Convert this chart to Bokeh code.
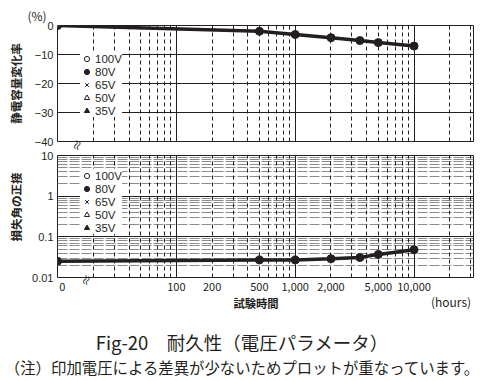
from bokeh.plotting import figure
from bokeh.models import (ColumnDataSource, FixedTicker, Grid, Legend, LegendItem,
                          Range1d, Div, InlineStyleSheet)
from bokeh.layouts import column, row
from bokeh.embed import file_html
from bokeh.resources import INLINE

# ---------------- data ----------------
hours = [0, 500, 1000, 2000, 3500, 5000, 10000]
cap_change_pct = [0.0, -2.0, -3.1, -4.2, -5.2, -5.9, -7.1]
tan_delta = [0.025, 0.027, 0.027, 0.029, 0.031, 0.037, 0.048]

voltage_labels = ["100V", "80V", "65V", "50V", "35V"]
top_voltage = "80V"   # the five voltages overlap; 80V is drawn on top

hour_ticks = [0, 100, 200, 500, 1000, 2000, 5000, 10000]
hour_tick_labels = ["0", "100", "200", "500", "1,000", "2,000", "5,000", "10,000"]
cap_ticks = [0, -10, -20, -30, -40]
cap_tick_labels = ["0", "−10", "−20", "−30", "−40"]
tan_ticks = [10, 1, 0.1, 0.01]
tan_tick_labels = ["10", "1", "0.1", "0.01"]

title_text = "Fig-20\u3000耐久性（電圧パラメータ）"
note_text = "（注）印加電圧による差異が少ないためプロットが重なっています。"
cap_ylabel = "静電容量変化率"
tan_ylabel = "損失角の正接"
x_label = "試験時間"
x_unit = "(hours)"
cap_unit = "(%)"
break_mark = "≈"

# ---------------- styles ----------------
INK = "#231f20"
GRAY = "#8c8c8c"
JP = "Noto Sans CJK JP"
NARROW = "'Liberation Sans Narrow', 'Noto Sans CJK JP'"
SANS = "'Liberation Sans', 'Noto Sans CJK JP'"
W = 484

X_MIN, X_MAX = 10, 10 ** 4.5      # 0 h is drawn at the axis break (left edge)
ZERO_LABEL_POS = 11

x_pos = [h if h > 0 else X_MIN for h in hours]
src = ColumnDataSource(dict(x=x_pos, cap=cap_change_pct, tan=tan_delta))

legend_styles = {
    "100V": dict(marker="circle", fill_color="white", size=6),
    "80V": dict(marker="circle", fill_color=INK, size=8),
    "65V": dict(marker="x", fill_color=None, size=6),
    "50V": dict(marker="triangle", fill_color="white", size=6),
    "35V": dict(marker="triangle", fill_color=INK, size=6),
}

FRAME_L, FRAME_W = 57, 416
OVERFLOW_CSS = InlineStyleSheet(css=":host{overflow:visible !important;} "
                                    "div{overflow:visible !important;}")


def text_div(height, width, spans):
    """spans: (text, cx, cy, size_px, weight, rotate_deg, font)"""
    inner = ""
    for text, cx, cy, size, weight, rot, font in spans:
        inner += (f'<span style="position:absolute;left:{cx}px;top:{cy}px;'
                  f'transform:translate(-50%,-50%) rotate({rot}deg);'
                  f'font-family:{font};font-size:{size}px;font-weight:{weight};'
                  f'color:{INK};white-space:nowrap;line-height:1.2">{text}</span>')
    html = f'<div style="position:relative;width:{width}px;height:{height}px">{inner}</div>'
    return Div(text=html, width=width, height=height, margin=0,
               stylesheets=[OVERFLOW_CSS], styles={"overflow": "visible"})


def base_fig(width, height, y_range, y_type, left, top, bottom, x_range):
    p = figure(width=width, height=height, x_axis_type="log", y_axis_type=y_type,
               x_range=x_range, y_range=y_range, output_backend="svg",
               toolbar_location=None, min_border_left=left,
               min_border_right=W - FRAME_L - FRAME_W,
               min_border_top=top, min_border_bottom=bottom)
    p.xgrid.grid_line_color = None
    p.ygrid.grid_line_color = None
    p.outline_line_color = INK
    p.outline_line_width = 1
    p.outline_line_alpha = 1
    p.background_fill_color = "white"
    p.border_fill_color = None
    return p


def style_axis(ax, ticks, labels, font, size, standoff):
    ax.ticker = FixedTicker(ticks=ticks)
    ax.major_label_overrides = dict(zip(ticks, labels))
    ax.major_tick_line_color = None
    ax.minor_tick_line_color = None
    ax.major_tick_out = 0
    ax.major_tick_in = 0
    ax.minor_tick_out = 0
    ax.minor_tick_in = 0
    ax.axis_line_color = None
    ax.major_label_text_font = font
    ax.major_label_text_font_size = size
    ax.major_label_text_color = INK
    ax.major_label_standoff = standoff


def vgrids(p):
    minor = [m * 10 ** e for e in (1, 2, 3) for m in range(2, 10)] + [20000, 30000]
    p.add_layout(Grid(dimension=0, ticker=FixedTicker(ticks=minor),
                      grid_line_color=INK, grid_line_width=1, grid_line_dash="4 3"))
    p.add_layout(Grid(dimension=0, ticker=FixedTicker(ticks=[100, 1000, 10000]),
                      grid_line_color=INK, grid_line_width=1))


def add_series(p, ycol, legend_loc):
    p.line("x", ycol, source=src, line_color=INK, line_width=3.5)
    renderers = {}
    order = [v for v in voltage_labels if v != top_voltage] + [top_voltage]
    for v in order:
        renderers[v] = p.scatter("x", ycol, source=src, line_color=INK, line_width=1,
                                 **legend_styles[v])
    items = [LegendItem(label=v, renderers=[renderers[v]]) for v in voltage_labels]
    leg = Legend(items=items, location=legend_loc, margin=0, padding=2, spacing=0,
                 glyph_width=13, glyph_height=13, label_height=13, label_standoff=2,
                 label_text_font=SANS, label_text_font_size="11.5px",
                 label_text_color=INK,
                 background_fill_color="white", background_fill_alpha=1,
                 border_line_color=None)
    p.add_layout(leg)


xr = Range1d(X_MIN, X_MAX)

# ---------------- "(%)" above the top panel (page y 0..13) ----------------
div_top = text_div(13, W, [(cap_unit, 37, 16, 12, 400, 0, JP)])

# ---------------- top panel: capacitance change (page y 13..148, frame 25..141) ----
p1 = base_fig(W, 135, Range1d(-40, 0), "linear", FRAME_L, 12, 7, xr)
p1.xaxis.visible = False
style_axis(p1.yaxis[0], cap_ticks, cap_tick_labels, SANS, "11px", 4)
p1.yaxis.axis_label = cap_ylabel
p1.yaxis.axis_label_text_font = JP
p1.yaxis.axis_label_text_font_size = "11.5px"
p1.yaxis.axis_label_text_font_style = "bold"
p1.yaxis.axis_label_text_color = INK
p1.yaxis.axis_label_standoff = 8
p1.add_layout(Grid(dimension=1, ticker=FixedTicker(ticks=[-10, -20, -30]),
                   grid_line_color=INK, grid_line_width=1))
vgrids(p1)
add_series(p1, "cap", (23, 24))

# ---------------- bottom panel: tan delta (page y 148..296, frame 155..277) -------
YLAB_W = 26
p2 = base_fig(W - YLAB_W, 148, Range1d(0.01, 10), "log", FRAME_L - YLAB_W, 7, 19, xr)
style_axis(p2.yaxis[0], tan_ticks, tan_tick_labels, SANS, "11px", 4)
hour_tick_pos = [ZERO_LABEL_POS if t == 0 else t for t in hour_ticks]
style_axis(p2.xaxis[0], hour_tick_pos, hour_tick_labels, NARROW, "11px", 5)
minor_y = [m * 10 ** e for e in (-2, -1, 0) for m in range(2, 10)]
p2.add_layout(Grid(dimension=1, ticker=FixedTicker(ticks=minor_y),
                   grid_line_color=GRAY, grid_line_width=1, grid_line_dash="10 2"))
p2.add_layout(Grid(dimension=1, ticker=FixedTicker(ticks=[0.1, 1]),
                   grid_line_color=INK, grid_line_width=1))
vgrids(p2)
add_series(p2, "tan", (23, 43))
div_ylab2 = text_div(148, YLAB_W, [(tan_ylabel, 17, 59, 11.5, 700, -90, JP)])

# ---------------- x label row (page y 296..312) + axis-break marks ----------------
div_xlab = text_div(16, W, [(x_label, 256, 8, 11.3, 700, 0, JP),
                            (x_unit, 451, 6, 12, 400, 0, JP),
                            (break_mark, 86, -16, 12, 400, -70, JP),
                            (break_mark, 77, -151.5, 12, 400, -70, JP)])

# ---------------- caption ----------------
div_title = text_div(44, W, [(title_text, 242, 30, 18.5, 400, 0, JP)])
div_note = text_div(22, W, [(note_text, 242, 10.5, 15.4, 400, 0, JP)])

layout = column(div_top, p1, row(div_ylab2, p2, spacing=0), div_xlab,
                div_title, div_note, spacing=0)
open("out.html", "w", encoding="utf-8").write(file_html(layout, INLINE))
